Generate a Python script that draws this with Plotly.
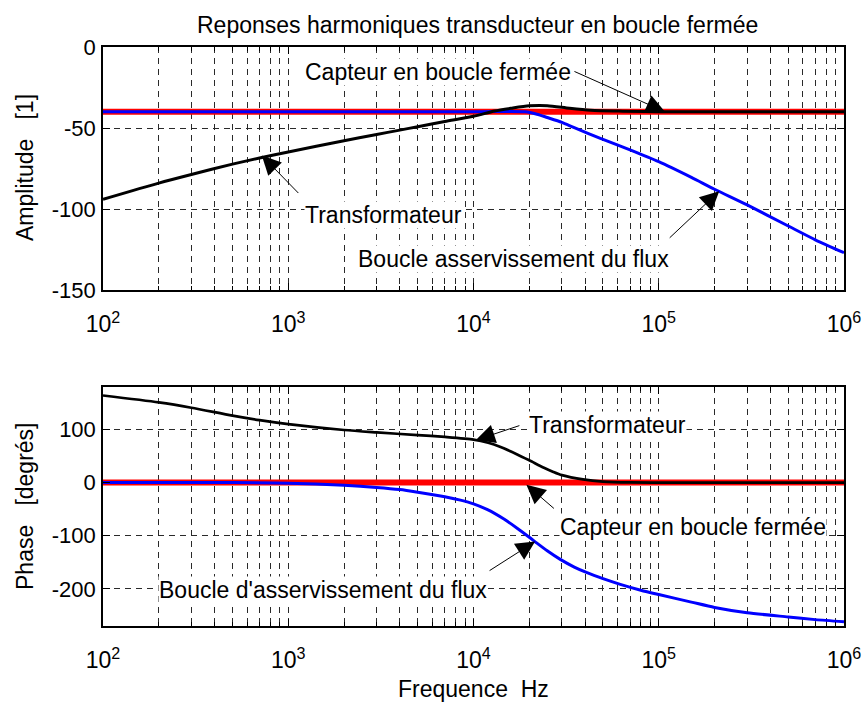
import math
import plotly.graph_objects as go

# ---------------- data ----------------
amp_black_f = [1e2, 2e2, 3e2, 5e2, 7e2, 1e3, 2e3, 3e3, 4e3, 5e3, 7e3, 1e4, 1.3e4, 1.6e4,
               2e4, 2.5e4, 3.3e4, 4.3e4, 6.4e4, 1e5, 1e6]
amp_black = [-94, -84, -78.7, -72.3, -68.5, -64.8, -57.9, -54, -51.3, -49.2, -46, -42.8,
             -39.5, -37.8, -36.3, -36.2, -37.8, -39, -39.6, -40, -40]

amp_blue_f = [1e2, 1e4, 1.9e4, 2.2e4, 2.5e4, 3e4, 3.5e4, 4.84e4, 7e4, 1e5, 1.5e5, 2e5,
              3e5, 5e5, 7e5, 1e6]
amp_blue = [-40, -40, -40, -41.5, -43.5, -46.5, -49.8, -56.4, -63.5, -70.8, -80.5, -87.8,
            -97.5, -110.5, -119, -127]

amp_red_f = [1e2, 1e6]
amp_red = [-40, -40]

ph_black_f = [1e2, 2e2, 3e2, 5e2, 7e2, 1e3, 2e3, 3e3, 5e3, 7e3, 1e4, 1.2e4, 1.4e4, 1.7e4,
              2e4, 2.4e4, 2.7e4, 3e4, 3.9e4, 5e4, 7e4, 1e5, 1e6]
ph_black = [164, 151, 141, 126, 117.5, 110, 99, 94.5, 89.5, 86, 81, 75, 67, 54, 42, 28,
            20, 14, 6, 2, 0.3, 0, 0]

ph_blue_f = [1e2, 5e2, 1e3, 2e3, 3e3, 4e3, 5e3, 7e3, 8.5e3, 1e4, 1.19e4, 1.46e4, 1.72e4,
             2e4, 2.2e4, 2.5e4, 2.94e4, 3.5e4, 4.1e4, 5e4, 6.2e4, 8e4, 1e5, 1.5e5, 2e5,
             3e5, 5e5, 7e5, 1e6]
ph_blue = [0, 0, -1, -5, -9, -13, -18, -26.5, -33, -40, -51, -68.7, -85.8, -102.8,
           -114, -128.4, -144.6, -159, -169.6, -180.8, -191.5, -202.6, -210.8, -225, -235,
           -245, -253, -258, -262]

ph_red_f = [1e2, 1.3e4, 1.35e4, 4.5e4, 4.6e4, 1e6]
ph_red = [0, 0, 2.5, 2.5, 0, 0]

x_major = [1e2, 1e3, 1e4, 1e5, 1e6]
x_major_text = ["10<sup>2</sup>", "10<sup>3</sup>", "10<sup>4</sup>", "10<sup>5</sup>", "10<sup>6</sup>"]
x_minor = [m * 10 ** d for d in range(2, 6) for m in range(2, 10)]

amp_ticks = [-150, -100, -50, 0]
amp_ticktext = ["-150", "-100", "-50", "0"]
ph_ticks = [-200, -100, 0, 100]
ph_ticktext = ["-200", "-100", "0", "100"]

title_text = "Reponses harmoniques transducteur en boucle fermée"
xlabel = "Frequence  Hz"
ylabel_top = "Amplitude   [1]"
ylabel_bot = "Phase   [degrés]"
label_capteur = "Capteur en boucle fermée"
label_transfo = "Transformateur"
label_boucle_top = "Boucle asservissement du flux"
label_boucle_bot = "Boucle d'asservissement du flux"

# ---------------- figure ----------------
W, H = 864, 702
FONT = "Arial, Liberation Sans, Helvetica, sans-serif"

fig = go.Figure()


def add(fx, fy, color, width, xa, ya, spline=True):
    line = dict(color=color, width=width)
    if spline:
        line.update(shape="spline", smoothing=0.7)
    fig.add_trace(go.Scatter(x=fx, y=fy, mode="lines", line=line, xaxis=xa, yaxis=ya,
                             showlegend=False, hoverinfo="skip"))


add(amp_red_f, amp_red, "#ff0000", 6, "x", "y", spline=False)
add(amp_blue_f, amp_blue, "#0000ff", 3, "x", "y")
add(amp_black_f, amp_black, "#000000", 3, "x", "y")

add(ph_red_f, ph_red, "#ff0000", 6, "x2", "y2", spline=False)
add(ph_blue_f, ph_blue, "#0000ff", 3, "x2", "y2")
add(ph_black_f, ph_black, "#000000", 2.7, "x2", "y2")

GRIDC = "#2a2a2a"
DASH = "6px,5px"


def xaxis(domain, anchor):
    return dict(type="log", range=[2, 6], domain=domain, anchor=anchor, automargin=False,
                tickvals=x_major, ticktext=x_major_text,
                ticks="inside", ticklen=7, tickwidth=1, tickcolor="black",
                showline=True, linecolor="black", linewidth=1.5, mirror="ticks",
                zeroline=False, tickfont=dict(family=FONT, size=23, color="black"),
                ticklabelstandoff=13,
                showgrid=True, gridcolor=GRIDC, gridwidth=1, griddash=DASH,
                minor=dict(tickvals=x_minor, ticks="inside", ticklen=4, tickcolor="black",
                           showgrid=True, gridcolor=GRIDC, gridwidth=1, griddash=DASH))


def yaxis(domain, anchor, rng, tv, tt):
    return dict(range=rng, domain=domain, anchor=anchor, automargin=False,
                tickvals=tv, ticktext=tt,
                ticks="inside", ticklen=7, tickwidth=1, tickcolor="black",
                showline=True, linecolor="black", linewidth=1.5, mirror="ticks",
                zeroline=False, tickfont=dict(family=FONT, size=22, color="black"),
                ticklabelstandoff=1,
                showgrid=True, gridcolor=GRIDC, gridwidth=1, griddash=DASH)


xd = [103 / W, 844 / W]
fig.update_layout(
    width=W, height=H,
    margin=dict(l=0, r=0, t=0, b=0, autoexpand=False),
    paper_bgcolor="white", plot_bgcolor="white",
    font=dict(family=FONT, color="black"),
    xaxis=xaxis(xd, "y"),
    yaxis=yaxis([1 - 290 / H, 1 - 47 / H], "x", [-150, 0], amp_ticks, amp_ticktext),
    xaxis2=xaxis(xd, "y2"),
    yaxis2=yaxis([1 - 626 / H, 1 - 387 / H], "x2", [-270, 180], ph_ticks, ph_ticktext),
)


def px_annot(text, left, yc, size=23, **kw):
    fig.add_annotation(text=text, xref="paper", yref="paper", x=left / W, y=1 - yc / H,
                       xanchor=kw.pop("xanchor", "left"), yanchor="middle", showarrow=False,
                       font=dict(family=FONT, size=size, color="black"), **kw)


# titles
px_annot(title_text, 478, 25, xanchor="center")
px_annot(xlabel, 473, 689, xanchor="center")
px_annot(ylabel_top, 25, 168, xanchor="center", textangle=-90)
px_annot(ylabel_bot, 25, 506, xanchor="center", textangle=-90)


# labels with white background
def label(text, left, yc):
    px_annot(text, left, yc, bgcolor="white", borderpad=0)


label(label_capteur, 304, 72)
label(label_transfo, 304, 215)
label(label_boucle_top, 357, 259)
label(label_transfo, 528, 425)
label(label_capteur, 559, 527)
label(label_boucle_bot, 158, 590)


# arrows (tip on the curve, tail offset in pixels)
def arrow(fx, fy, ax, ay, xr, yr):
    fig.add_annotation(x=math.log10(fx), y=fy, xref=xr, yref=yr, ax=ax, ay=ay,
                       text="", showarrow=True, arrowhead=2, arrowsize=3.8,
                       arrowwidth=1, arrowcolor="black", standoff=0)


arrow(1.08e5, -40, -92, -41, "x", "y")
arrow(7.2e2, -67, 38, 39, "x", "y")
arrow(2.12e5, -89, -51, 48, "x", "y")
arrow(1.03e4, 80, 45, -15, "x2", "y2")
arrow(1.93e4, -4, 29, 25, "x2", "y2")
arrow(2.15e4, -111, -47, 30, "x2", "y2")

fig.write_html("out.html")
